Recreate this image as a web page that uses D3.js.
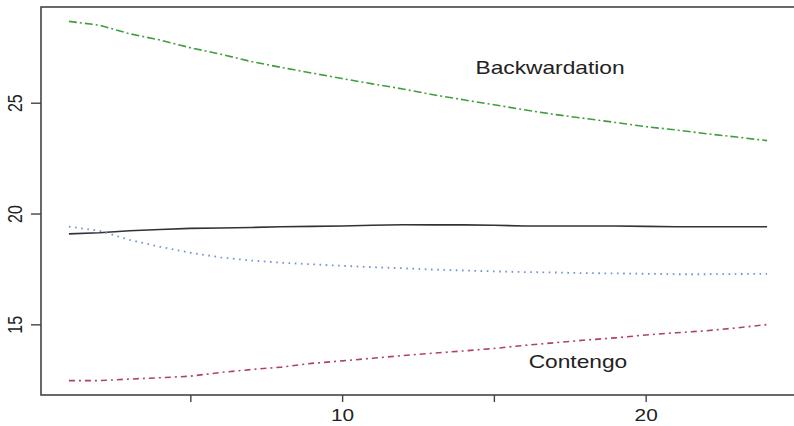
<!DOCTYPE html>
<html>
<head>
<meta charset="utf-8">
<script src="https://cdn.jsdelivr.net/npm/d3@7"></script>
<style>
  html, body { margin: 0; padding: 0; background: #fff; }
  svg { display: block; }
  text { font-family: "Liberation Sans", Arial, sans-serif; fill: #222; }
</style>
</head>
<body>
<svg id="chart" width="794" height="426"></svg>
<script>
// Futures curves by contract month
const maturity = [1, 2, 3, 4, 5, 6, 7, 8, 9, 10, 11, 12, 13, 14, 15, 16, 17, 18, 19, 20, 21, 22, 23, 24];

const backwardation = [28.67, 28.50, 28.11, 27.83, 27.48, 27.19, 26.86, 26.59, 26.34, 26.09, 25.85, 25.62,
                       25.36, 25.13, 24.91, 24.68, 24.47, 24.29, 24.11, 23.92, 23.77, 23.60, 23.45, 23.29];
const spot = [19.08, 19.13, 19.22, 19.28, 19.33, 19.35, 19.37, 19.40, 19.42, 19.44, 19.47, 19.49,
              19.49, 19.49, 19.47, 19.44, 19.44, 19.44, 19.44, 19.42, 19.40, 19.40, 19.40, 19.40];
const flattening = [19.41, 19.22, 18.81, 18.50, 18.23, 18.02, 17.88, 17.78, 17.71, 17.64, 17.58, 17.53,
                    17.47, 17.43, 17.39, 17.36, 17.34, 17.31, 17.30, 17.28, 17.26, 17.26, 17.27, 17.28];
const contango = [12.46, 12.46, 12.53, 12.59, 12.66, 12.83, 12.96, 13.07, 13.24, 13.35, 13.47, 13.59,
                  13.70, 13.80, 13.91, 14.05, 14.17, 14.29, 14.39, 14.52, 14.62, 14.71, 14.84, 14.99];

const xTicks = [5, 10, 15, 20];
const xTickLabels = ["", "10", "", "20"];
const yTicks = [15, 20, 25];
const yTickLabels = ["15", "20", "25"];

const labelNames = ["Backwardation", "Contengo"];
const labelX = [16.85, 17.77];
const labelY = [26.57, 13.30];

const svg = d3.select("#chart");
const plot = { left: 41, top: 7, right: 795, bottom: 395 };
const textStretch = 1.3;

// R-style 4% padding around the data range
function padded(ext) {
  const p = (ext[1] - ext[0]) * 0.04;
  return [ext[0] - p, ext[1] + p];
}
const allY = backwardation.concat(spot, flattening, contango);
const x = d3.scaleLinear().domain(padded(d3.extent(maturity))).range([plot.left, plot.right]);
const y = d3.scaleLinear().domain(padded(d3.extent(allY))).range([plot.bottom, plot.top]);

// Series
const series = [
  { values: backwardation, color: "#3f9f3f", dash: "8,3,2,3", width: 1.6 },
  { values: spot,          color: "#333333", dash: null,      width: 1.6 },
  { values: flattening,    color: "#7092d0", dash: "1.6,4.6", width: 1.8 },
  { values: contango,      color: "#b0406e", dash: "6,4,2,4", width: 1.6 }
];

const line = d3.line().x((d, i) => x(maturity[i])).y(d => y(d));

svg.append("g").selectAll("path")
  .data(series)
  .join("path")
  .attr("d", s => line(s.values))
  .attr("fill", "none")
  .attr("stroke", s => s.color)
  .attr("stroke-width", s => s.width)
  .attr("stroke-dasharray", s => s.dash);

// Box around the plotting region
svg.append("rect")
  .attr("x", plot.left).attr("y", plot.top)
  .attr("width", plot.right - plot.left).attr("height", plot.bottom - plot.top)
  .attr("fill", "none").attr("stroke", "#444").attr("stroke-width", 1.6);

// X axis
const xAxis = d3.axisBottom(x)
  .tickValues(xTicks)
  .tickSize(7)
  .tickPadding(8)
  .tickFormat((d, i) => xTickLabels[i]);
const gx = svg.append("g").attr("transform", `translate(0,${plot.bottom})`).call(xAxis);
gx.select(".domain").remove();
gx.selectAll(".tick line").attr("stroke", "#444").attr("stroke-width", 1.4);
gx.selectAll(".tick text")
  .attr("font-size", 16)
  .attr("fill", "#222")
  .attr("transform", `scale(${textStretch},1)`)
  .attr("x", 0);

// Y axis with rotated labels
const yAxis = d3.axisLeft(y)
  .tickValues(yTicks)
  .tickSize(10)
  .tickFormat((d, i) => yTickLabels[i]);
const gy = svg.append("g").attr("transform", `translate(${plot.left},0)`).call(yAxis);
gy.select(".domain").remove();
gy.selectAll(".tick line").attr("stroke", "#444").attr("stroke-width", 1.4);
gy.selectAll(".tick text")
  .attr("font-size", 16)
  .attr("fill", "#222")
  .attr("x", null).attr("dy", null)
  .attr("text-anchor", "middle")
  .attr("dominant-baseline", "central")
  .attr("transform", `translate(-26,0) scale(${textStretch},1) rotate(-90)`);

// In-plot annotations
svg.append("g").selectAll("g")
  .data(labelNames)
  .join("g")
  .attr("transform", (d, i) => `translate(${x(labelX[i])},${y(labelY[i])})`)
  .append("text")
  .attr("text-anchor", "middle")
  .attr("dominant-baseline", "central")
  .attr("font-size", 17.5)
  .attr("fill", "#111")
  .attr("transform", `scale(${textStretch},1)`)
  .text(d => d);
</script>
</body>
</html>
